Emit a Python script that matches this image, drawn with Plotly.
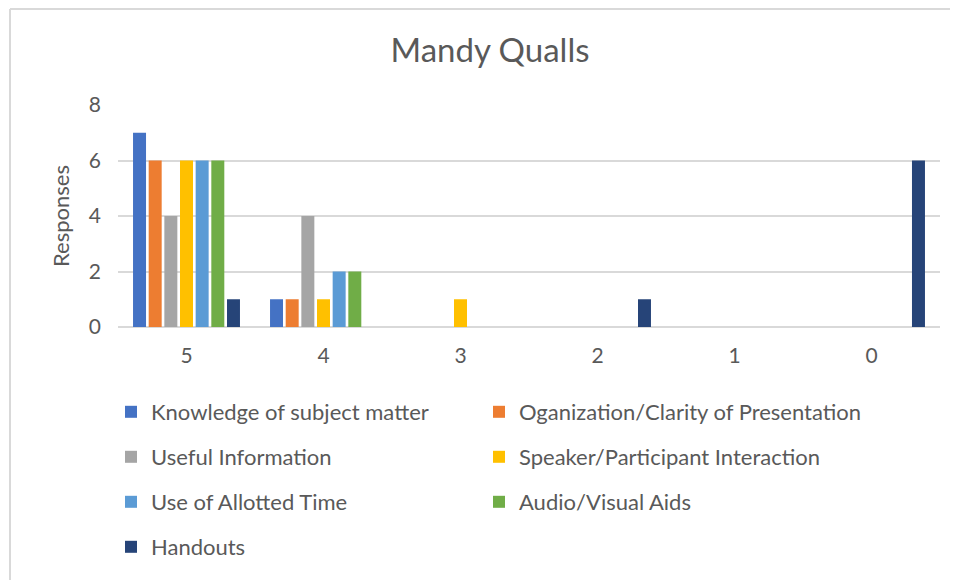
import plotly.graph_objects as go

categories = ["5", "4", "3", "2", "1", "0"]
series_names = [
    "Knowledge of subject matter",
    "Oganization/Clarity of Presentation",
    "Useful Information",
    "Speaker/Participant Interaction",
    "Use of Allotted Time",
    "Audio/Visual Aids",
    "Handouts",
]
knowledge = [7, 1, 0, 0, 0, 0]
organization = [6, 1, 0, 0, 0, 0]
useful = [4, 4, 0, 0, 0, 0]
speaker = [6, 1, 1, 0, 0, 0]
allotted = [6, 2, 0, 0, 0, 0]
audio_visual = [6, 2, 0, 0, 0, 0]
handouts = [1, 0, 0, 1, 0, 6]

values = [knowledge, organization, useful, speaker, allotted, audio_visual, handouts]
colors = ["#4472C4", "#ED7D31", "#A5A5A5", "#FFC000", "#5B9BD5", "#70AD47", "#264478"]

# page body has an 8px margin; work in reference pixel coords and shift
OFF = 8
W, H = 958 - OFF, 580 - OFF
L, R, T, B = 118 - OFF, 958 - 940, 105 - OFF, 580 - 327
pw = W - L - R
ph = H - T - B

font_family = "Lato, 'Open Sans', sans-serif"
txt_col = "#595959"

def ly(py):
    return (H - B - (py - OFF)) / ph

def lx(px):
    return (px - OFF - L) / pw

# legend grid (reference pixel positions): two columns, four rows
col_x = [111, 479]
row_y = [412, 457, 502, 547]

fig = go.Figure()
legend_layouts = {}
for i, (name, vals, col) in enumerate(zip(series_names, values, colors)):
    lid = "legend" if i == 0 else f"legend{i + 1}"
    fig.add_trace(go.Bar(x=categories, y=vals, name=name, marker_color=col,
                         marker_line_width=0, legend=lid, showlegend=True))
    legend_layouts[lid] = dict(
        orientation="v", xanchor="left", yanchor="middle",
        x=lx(col_x[i % 2]), y=ly(row_y[i // 2]),
        font=dict(family=font_family, size=22, color=txt_col),
        bgcolor="rgba(0,0,0,0)", itemwidth=30, borderwidth=0)

fig.update_layout(
    width=W, height=H,
    margin=dict(l=L, r=R, t=T, b=B),
    paper_bgcolor="white", plot_bgcolor="white",
    showlegend=True,
    barmode="group", bargap=0.2, bargroupgap=0.17,
    title=dict(text="Mandy Qualls", x=(490 - OFF) / W, xanchor="center",
               y=1 - (50 - OFF) / H, yanchor="middle",
               font=dict(family=font_family, size=33, color=txt_col)),
    font=dict(family=font_family, color=txt_col),
    xaxis=dict(showline=False, ticks="", tickfont=dict(size=21, color=txt_col),
               showgrid=False, ticklabelstandoff=14),
    yaxis=dict(range=[0, 8], dtick=2, showgrid=True, gridcolor="#D9D9D9", gridwidth=1.5,
               zeroline=True, zerolinecolor="#D9D9D9", zerolinewidth=1.5,
               tickfont=dict(size=21, color=txt_col), ticklabelstandoff=16,
               title=dict(text="Responses", font=dict(size=22, color=txt_col), standoff=13)),
    shapes=[
        dict(type="line", xref="paper", yref="paper",
             x0=lx(10), x1=lx(980), y0=ly(9), y1=ly(9),
             line=dict(color="#D9D9D9", width=2)),
        dict(type="line", xref="paper", yref="paper",
             x0=lx(10), x1=lx(10), y0=ly(9), y1=ly(600),
             line=dict(color="#D9D9D9", width=2)),
    ],
    **legend_layouts,
)

fig.write_html("out.html")
